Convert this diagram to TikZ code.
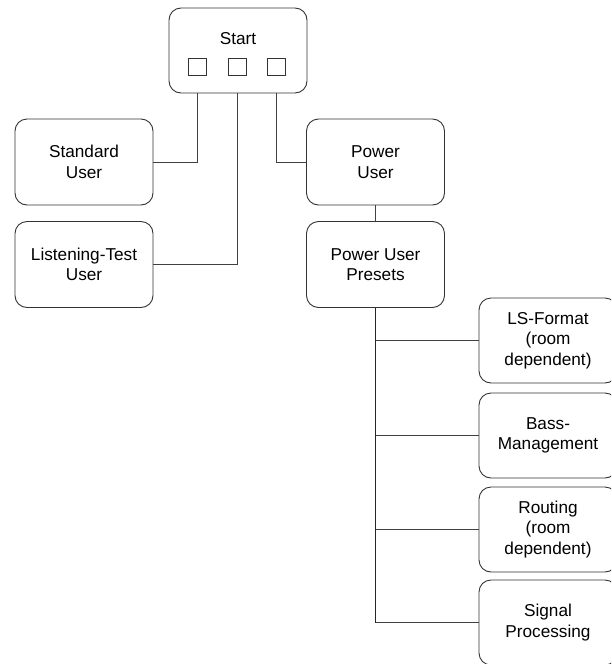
\documentclass[tikz,border=0pt]{standalone}
\usepackage{fontspec}
\setmainfont{Liberation Sans}
\begin{document}
\begin{tikzpicture}[x=1pt,y=-1pt,
  box/.style={draw=black!80, line width=0.9pt, rounded corners=12pt,
    minimum width=138pt, minimum height=86pt, inner sep=0pt,
    align=center, font=\fontsize{17.2}{20.5}\selectfont},
  txt/.style={inner sep=0pt, font=\fontsize{17.2}{20.5}\selectfont},
  sq/.style={draw=black!80, line width=0.8pt, minimum width=18pt, minimum height=17pt, inner sep=0pt},
  conn/.style={draw=black!75, line width=0.9pt},
  trunk/.style={draw=black!85, line width=1.6pt}]
\useasboundingbox (0,0) rectangle (611,664);
\clip (0,0) rectangle (611,664);
\node[box, minimum height=85pt] (start) at (238,50.5) {};
\node[txt] (starttxt) at (238,39) {Start};
\node[sq] (sq1) at (197,66.5) {};
\node[sq] (sq2) at (237,66.5) {};
\node[sq] (sq3) at (276.5,66.5) {};
\node[box] (std) at (84,162) {Standard\\User};
\node[box] (lst) at (84,264.5) {Listening-Test\\User};
\node[box] (pow) at (375.5,162) {Power\\User};
\node[box] (pre) at (375.5,264.5) {Power User\\Presets};
\node[box, minimum height=85pt] (ls) at (548,340.5) {LS-Format\\(room\\dependent)};
\node[box, minimum height=85pt] (bass) at (548,435.5) {Bass-\\Management};
\node[box, minimum height=85pt] (rout) at (548,529.5) {Routing\\(room\\dependent)};
\node[box, minimum height=85pt] (sig) at (548,622.5) {Signal\\Processing};
\draw[conn] (start.south -| sq1) |- (std.east);
\draw[conn] (start.south -| sq2) |- (lst.east);
\draw[conn] (start.south -| sq3) |- (pow.west);
\draw[conn] (pow) -- (pre);
\draw[trunk] (pre.south) -- (pre.south |- sig.west);
\draw[conn] (pre.south |- ls.west) -- (ls.west);
\draw[conn] (pre.south |- bass.west) -- (bass.west);
\draw[conn] (pre.south |- rout.west) -- (rout.west);
\draw[conn] (pre.south |- sig.west) -- (sig.west);
\end{tikzpicture}
\end{document}
